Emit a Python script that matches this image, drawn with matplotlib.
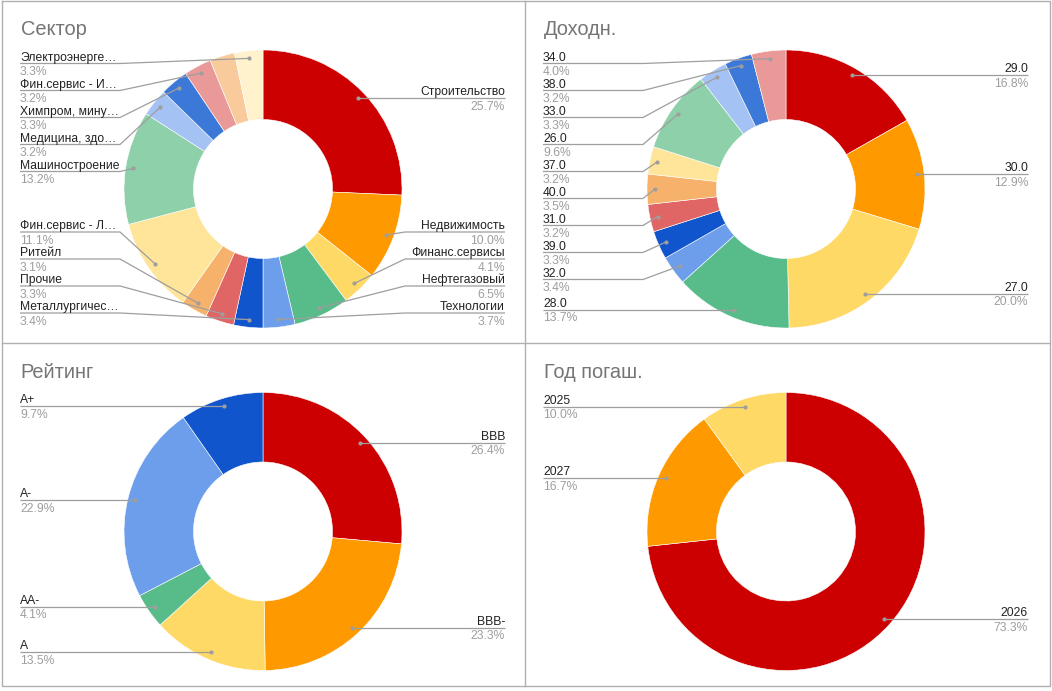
import matplotlib
matplotlib.use("Agg")
import matplotlib.pyplot as plt
import numpy as np

plt.rcParams['font.family'] = ['Liberation Sans', 'DejaVu Sans']

# ---- data ----
sector_labels = ['Строительство', 'Недвижимость', 'Финанс.сервисы', 'Нефтегазовый',
                 'Технологии', 'Металлургичес…', 'Прочие', 'Ритейл',
                 'Фин.сервис - Л…', 'Машиностроение', 'Медицина, здо…',
                 'Химпром, мину…', 'Фин.сервис - И…', '', 'Электроэнерге…']
sector_values = [25.7, 10.0, 4.1, 6.5, 3.7, 3.4, 3.3, 3.1, 11.1, 13.2, 3.2, 3.3, 3.2, 2.9, 3.3]

yield_labels = ['29.0', '30.0', '27.0', '28.0', '32.0', '39.0', '31.0',
                '40.0', '37.0', '26.0', '33.0', '38.0', '34.0']
yield_values = [16.8, 12.9, 20.0, 13.7, 3.4, 3.3, 3.2, 3.5, 3.2, 9.6, 3.3, 3.2, 4.0]

rating_labels = ['BBB', 'BBB-', 'A', 'AA-', 'A-', 'A+']
rating_values = [26.4, 23.3, 13.5, 4.1, 22.9, 9.7]

year_labels = ['2026', '2027', '2025']
year_values = [73.3, 16.7, 10.0]

palette = ['#cc0000', '#ff9900', '#ffd966', '#57bb8a', '#6d9eeb', '#1155cc',
           '#e06666', '#f6b26b', '#ffe599', '#8ed0a9', '#a4c2f4', '#3c78d8',
           '#ea9999', '#f9cb9c', '#fff2cc']

# ---- layout (pixels) ----
W, H = 1052, 691
R = 139
HOLE = 0.5
DOT_R = 0.945
GAP = 27
TITLE_C = '#757575'
NAME_C = '#222222'
PCT_C = '#9e9e9e'
LINE_C = '#9e9e9e'


def spread(ys, lo, hi, gap):
    ys = list(ys)
    for i in range(len(ys)):
        lo_i = lo if i == 0 else ys[i - 1] + gap
        ys[i] = max(ys[i], lo_i)
    for i in range(len(ys) - 1, -1, -1):
        hi_i = hi if i == len(ys) - 1 else ys[i + 1] - gap
        ys[i] = min(ys[i], hi_i)
    return ys


fig = plt.figure(figsize=(W / 100, H / 100), dpi=100)
ax = fig.add_axes([0, 0, 1, 1])


def donut(title, labels, values, cx, cy):
    wedges, _ = ax.pie(values, colors=palette[:len(values)], center=(cx, cy), radius=R,
                       startangle=-90, counterclock=True,
                       wedgeprops=dict(width=R * (1 - HOLE), edgecolor='white', linewidth=0.4))
    total = sum(values)
    ax.text(cx - 242.5, cy - 154, title, fontsize=14.4, color=TITLE_C, va='baseline', ha='left')

    items = []
    for w, lab, v in zip(wedges, labels, values):
        if not lab:
            continue
        mid = np.deg2rad((w.theta1 + w.theta2) / 2)
        dx = cx + DOT_R * R * np.cos(mid)
        dy = cy + DOT_R * R * np.sin(mid)
        items.append((dx, dy, lab, f"{v / total * 100:.1f}%"))

    for side in ('left', 'right'):
        grp = [it for it in items if (it[0] < cx) == (side == 'left')]
        grp.sort(key=lambda it: it[1])
        ys = spread([it[1] for it in grp], cy - 125.5, cy + 124, GAP)
        for (dx, dy, lab, pct), ly in zip(grp, ys):
            if side == 'left':
                tx = cx - 243
                ex = tx + 100
                ha = 'left'
                ex = min(ex, dx)
            else:
                tx = cx + 242
                ex = tx - 100
                ha = 'right'
                ex = max(ex, dx)
            ax.plot([tx, ex, dx], [ly, ly, dy], color=LINE_C, lw=0.9, solid_capstyle='butt')
            ax.plot([dx], [dy], 'o', color=LINE_C, ms=3, mew=0)
            ax.text(tx, ly - 3, lab, fontsize=8.7, color=NAME_C, ha=ha, va='baseline')
            ax.text(tx, ly + 11.5, pct, fontsize=8.7, color=PCT_C, ha=ha, va='baseline')


donut('Сектор', sector_labels, sector_values, 263, 189)
donut('Доходн.', yield_labels, yield_values, 786, 189)
donut('Рейтинг', rating_labels, rating_values, 263, 531.5)
donut('Год погаш.', year_labels, year_values, 786, 531.5)

# panel borders
border = '#b0b0b0'
ax.plot([2, 2, 1050, 1050, 2], [1, 686, 686, 1, 1], color=border, lw=1)
ax.plot([525, 525], [1, 686], color=border, lw=1)
ax.plot([2, 1050], [343, 343], color=border, lw=1)

ax.set_xlim(0, W)
ax.set_ylim(H, 0)
ax.set_aspect('auto')
ax.axis('off')

fig.savefig('out.png', dpi=100, facecolor='white')
